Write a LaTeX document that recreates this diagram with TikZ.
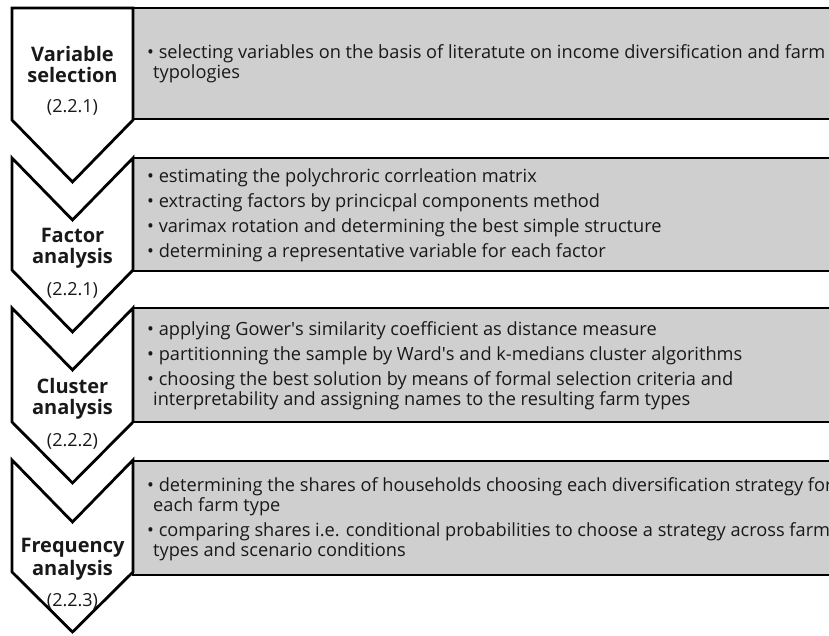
\documentclass[tikz,border=0pt]{standalone}
\usepackage{fontspec}
\setmainfont{Open Sans}
\definecolor{boxgray}{RGB}{207,207,207}
\definecolor{ink}{RGB}{25,25,25}
\begin{document}
\begin{tikzpicture}[x=1pt,y=-1pt,
  frame/.style={draw=black, line width=2.8pt, line join=miter},
  chev/.style={frame, fill=white},
  panel/.style={frame, fill=boxgray},
  head/.style={font=\fontsize{20}{22}\selectfont\bfseries, anchor=base, inner sep=0pt, text=ink},
  num/.style={font=\fontsize{18}{20}\selectfont, anchor=base, inner sep=0pt, text=ink},
  body/.style={font=\fontsize{18.2}{20}\selectfont, anchor=west, align=left, inner sep=0pt, text=ink}]
\useasboundingbox (0,0) rectangle (829,635);
\clip (0,0) rectangle (829,635);
% panels
\draw[panel] (133,8) rectangle (880,119);
\draw[panel] (133,158) rectangle (880,271);
\draw[panel] (133,308) rectangle (880,422);
\draw[panel] (133,461) rectangle (880,575);
% chevrons
\draw[chev] (12,8) -- (133,8) -- (133,120) -- (72.5,182) -- (12,120) -- cycle;
\draw[chev] (12,158) -- (72.5,220) -- (133,158) -- (133,270) -- (72.5,332) -- (12,270) -- cycle;
\draw[chev] (12,308) -- (72.5,370) -- (133,308) -- (133,422) -- (72.5,483) -- (12,422) -- cycle;
\draw[chev] (12,460) -- (72.5,522) -- (133,460) -- (133,572) -- (72.5,632) -- (12,572) -- cycle;
% titles
\node[head] (t1a) at (72.5,61) {Variable};
\node[head] (t1b) at (72.5,82) {selection};
\node[num]  (n1)  at (72.5,112) {(2.2.1)};
\node[head] (t2a) at (72.5,242) {Factor};
\node[head] (t2b) at (72.5,263) {analysis};
\node[num]  (n2)  at (72.5,295) {(2.2.1)};
\node[head] (t3a) at (72.5,393) {Cluster};
\node[head] (t3b) at (72.5,414) {analysis};
\node[num]  (n3)  at (72.5,446) {(2.2.2)};
\node[head] (t4a) at (72.5,552) {Frequency};
\node[head] (t4b) at (72.5,575) {analysis};
\node[num]  (n4)  at (72.5,606) {(2.2.3)};
% texts
\node[body] (b1) at (147,64) {\textbullet\ selecting variables on the basis of literatute on income diversification and farm\\
\hspace*{6pt}typologies};
\node[body] (b2) at (147,215) {\textbullet\ estimating the polychroric corrleation matrix\\[5pt]
\textbullet\ extracting factors by princicpal components method\\[5pt]
\textbullet\ varimax rotation and determining the best simple structure\\[5pt]
\textbullet\ determining a representative variable for each factor};
\node[body] (b3) at (147,366) {\textbullet\ applying Gower\textquotesingle s similarity coefficient as distance measure\\[5pt]
\textbullet\ partitionning the sample by Ward\textquotesingle s and k-medians cluster algorithms\\[5pt]
\textbullet\ choosing the best solution by means of formal selection criteria and\\
\hspace*{6pt}interpretability and assigning names to the resulting farm types};
\node[body] (b4) at (147,519) {\textbullet\ determining the shares of households choosing each diversification strategy for\\
\hspace*{6pt}each farm type\\[5pt]
\textbullet\ comparing shares i.e. conditional probabilities to choose a strategy across farm\\
\hspace*{6pt}types and scenario conditions};
\end{tikzpicture}
\end{document}
